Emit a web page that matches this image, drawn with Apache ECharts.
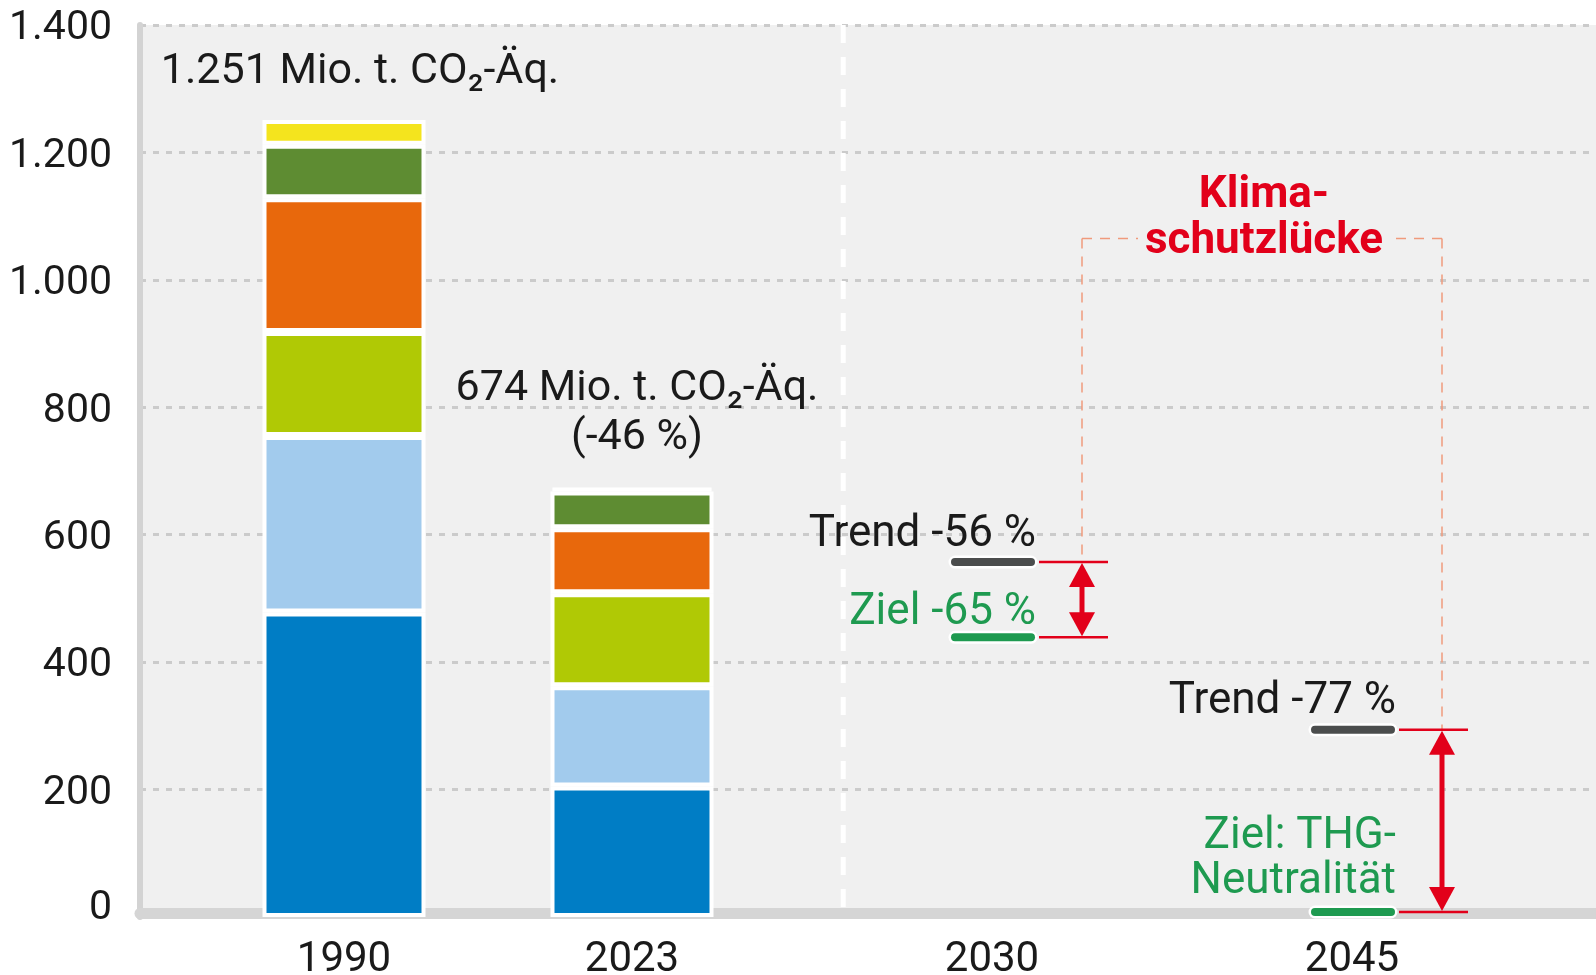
<!DOCTYPE html>
<html><head><meta charset="utf-8">
<script src="https://cdn.jsdelivr.net/npm/echarts@6/dist/echarts.min.js"></script>
<style>html,body{margin:0;padding:0;background:#fff}#chart{width:1596px;height:975px}</style>
</head><body><div id="chart"></div>
<script>
// ---------------- data ----------------
const years = ['1990', '2023', '2030', '2045'];
const sectors = ['Energiewirtschaft', 'Industrie', 'Verkehr', 'Gebäude', 'Landwirtschaft', 'Abfallwirtschaft und Sonstiges'];
const values1990 = [478, 277, 163, 210, 84, 39];
const values2023 = [205, 157, 146, 102, 58, 6];
const projectionYears = ['2030', '2045'];
const trendValues = [557, 294];
const goalValues = [439, 0];
const trendLabels = ['Trend -56 %', 'Trend -77 %'];
const goalLabels = ['Ziel -65 %', 'Ziel: THG-\nNeutralität'];
const yTickValues = [0, 200, 400, 600, 800, 1000, 1200, 1400];
const unitText = 'Mio. t. CO₂-Äq.';
const gapText = 'Klima-\nschutzlücke';

// ---------------- layout / style ----------------
const FONT = 'Roboto, "Noto Sans", sans-serif';
const sectorColors = ['#007dc5', '#a2cbed', '#b0c905', '#e8680c', '#5e8c32', '#f4e41e'];
const SLOT_COUNT = 61;
const slotOfYear = { '1990': 8, '2023': 20, '2030': 35, '2045': 50 };
const separatorSlot = 28.8;
const bracketLevel = 1065;
const RED = '#e2001a', GREEN = '#1e9a50', DARK = '#1a1a1a', GUIDE = '#f09a7c';

const fmt = v => String(v).replace(/\B(?=(\d{3})+(?!\d))/g, '.');
const categories = [];
for (let i = 0; i < SLOT_COUNT; i++) {
  const y = years.find(yr => slotOfYear[yr] === i);
  categories.push(y ? y : 's' + i);
}
const barYears = { '1990': values1990, '2023': values2023 };
const total1990 = values1990.reduce((a, b) => a + b, 0);
const total2023 = values2023.reduce((a, b) => a + b, 0);
const totalLabels = {
  '1990': { text: fmt(total1990) + ' ' + unitText, offset: [16, 0], distance: 23 },
  '2023': { text: fmt(total2023) + ' ' + unitText + '\n(' + Math.round((total2023 / total1990 - 1) * 100) + ' %)', offset: [5, 0], distance: 25 }
};

const barSeries = sectors.map((name, s) => {
  const data = categories.map(() => null);
  Object.keys(barYears).forEach(yr => {
    const item = { value: barYears[yr][s] };
    if (s === sectors.length - 1) {
      item.label = { show: true, position: 'top', distance: totalLabels[yr].distance, formatter: totalLabels[yr].text, offset: totalLabels[yr].offset };
    }
    data[slotOfYear[yr]] = item;
  });
  return {
    name, type: 'bar', stack: 'total', data, barWidth: 163, z: 3,
    itemStyle: { color: sectorColors[s], borderColor: '#ffffff', borderWidth: 4 },
    label: { color: DARK, fontSize: 43, lineHeight: 49, fontFamily: FONT, align: 'center' },
    emphasis: { disabled: true }
  };
});

const annotationSeries = {
  type: 'custom', z: 5, clip: false, silent: true,
  encode: { x: 0, y: 1 },
  data: projectionYears.map((yr, i) => [slotOfYear[yr], trendValues[i], goalValues[i]]),
  renderItem(params, api) {
    const i = params.dataIndex;
    const slot = api.value(0);
    const cx = api.coord([slot, 0])[0];
    const zeroY = api.coord([slot, 0])[1];
    const yT = api.coord([slot, api.value(1)])[1];
    let yG = api.coord([slot, api.value(2)])[1];
    if (api.value(2) === 0) yG = zeroY - 5;
    const bracketY = api.coord([slot, bracketLevel])[1];
    const segL = cx - 37, segR = cx + 39;
    const redL = cx + 47, redR = cx + 116, ax = cx + 90;
    const ch = [];
    const seg = (y, color) => {
      ch.push({ type: 'line', shape: { x1: segL, y1: y, x2: segR, y2: y }, style: { stroke: '#fff', lineWidth: 13, lineCap: 'round' } });
      ch.push({ type: 'line', shape: { x1: segL, y1: y, x2: segR, y2: y }, style: { stroke: color, lineWidth: 8, lineCap: 'round' } });
    };
    ch.push({ type: 'line', shape: { x1: ax, y1: bracketY, x2: ax, y2: yT }, style: { stroke: GUIDE, lineWidth: 1.5, lineDash: [10, 8] } });
    seg(yT, '#4b4d4d');
    seg(yG, GREEN);
    ch.push({ type: 'line', shape: { x1: redL, y1: yT, x2: redR, y2: yT }, style: { stroke: RED, lineWidth: 2.5 } });
    ch.push({ type: 'line', shape: { x1: redL, y1: yG, x2: redR, y2: yG }, style: { stroke: RED, lineWidth: 2.5 } });
    ch.push({ type: 'line', shape: { x1: ax, y1: yT + 20, x2: ax, y2: yG - 20 }, style: { stroke: RED, lineWidth: 5 } });
    ch.push({ type: 'polygon', shape: { points: [[ax, yT + 1], [ax - 13, yT + 25], [ax + 13, yT + 25]] }, style: { fill: RED } });
    ch.push({ type: 'polygon', shape: { points: [[ax, yG - 1], [ax - 13, yG - 25], [ax + 13, yG - 25]] }, style: { fill: RED } });
    const goalGap = goalLabels[i].indexOf('\n') >= 0 ? 8 : 2;
    ch.push({ type: 'text', x: segR + 5, y: yT - 5, style: { text: trendLabels[i], align: 'right', verticalAlign: 'bottom', fontSize: 44, lineHeight: 45, fontFamily: FONT, fill: DARK } });
    ch.push({ type: 'text', x: segR + 5, y: yG - goalGap, style: { text: goalLabels[i], align: 'right', verticalAlign: 'bottom', fontSize: 44, lineHeight: 45, fontFamily: FONT, fill: GREEN } });
    if (i === 0) {
      const ax2 = api.coord([slotOfYear[projectionYears[1]], 0])[0] + 90;
      const mid = (ax + ax2) / 2;
      ch.push({ type: 'line', shape: { x1: ax, y1: bracketY, x2: mid - 124, y2: bracketY }, style: { stroke: GUIDE, lineWidth: 1.5, lineDash: [10, 8] } });
      ch.push({ type: 'line', shape: { x1: mid + 134, y1: bracketY, x2: ax2, y2: bracketY }, style: { stroke: GUIDE, lineWidth: 1.5, lineDash: [10, 8] } });
      ch.push({ type: 'text', x: mid + 2, y: bracketY + 27, style: { text: gapText, align: 'center', verticalAlign: 'bottom', fontSize: 44, fontWeight: 'bold', lineHeight: 46, fontFamily: FONT, fill: RED } });
      // white dashed separator between history and projection
      const k = Math.floor(separatorSlot);
      const xa = api.coord([k, 0])[0], xb = api.coord([k + 1, 0])[0];
      const sx = xa + (separatorSlot - k) * (xb - xa);
      const topY = api.coord([slot, yTickValues[yTickValues.length - 1]])[1];
      ch.push({ type: 'line', shape: { x1: sx, y1: topY, x2: sx, y2: zeroY - 8 }, style: { stroke: '#ffffff', lineWidth: 5, lineDash: [18, 14] } });
    }
    return { type: 'group', children: ch };
  }
};

const chart = echarts.init(document.getElementById('chart'), null, { renderer: 'canvas' });
chart.setOption({
  animation: false,
  backgroundColor: '#ffffff',
  grid: { left: 140, width: 1464, top: 25, bottom: 58, show: true, backgroundColor: '#f0f0f0', borderWidth: 0,
    containLabel: false, outerBoundsMode: 'none' },
  xAxis: {
    type: 'category', data: categories, boundaryGap: true, offset: -4,
    axisLine: { show: true, lineStyle: { color: '#d5d5d5', width: 11 } },
    axisTick: { show: false },
    axisLabel: { interval: 0, margin: 26, fontSize: 42, fontFamily: FONT, color: DARK,
      formatter: v => (years.indexOf(v) >= 0 ? v : '') },
    splitLine: { show: false }
  },
  yAxis: {
    type: 'value', min: yTickValues[0], max: yTickValues[yTickValues.length - 1], interval: 200,
    axisLine: { show: true, lineStyle: { color: '#d3d3d3', width: 6 } },
    axisTick: { show: false },
    axisLabel: { margin: 28, fontSize: 41, fontFamily: FONT, color: DARK, padding: [8, 0, 0, 0],
      formatter: v => (v === 0 ? '{z|0}' : fmt(v)),
      rich: { z: { fontSize: 41, fontFamily: FONT, color: DARK, padding: [0, 0, 25, 0] } } },
    splitLine: { show: true, lineStyle: { color: '#cbcbcb', width: 3, type: [6, 7] } }
  },
  series: [...barSeries, annotationSeries]
});
</script></body></html>
